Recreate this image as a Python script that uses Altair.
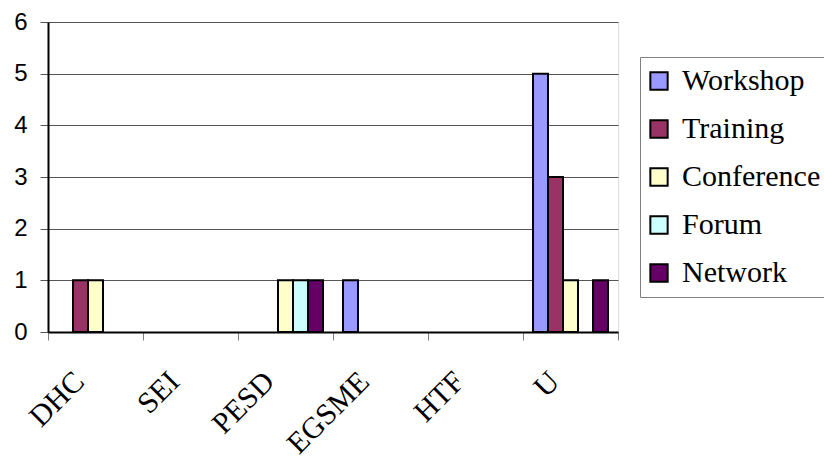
import altair as alt
import pandas as pd

categories = ["DHC", "SEI", "PESD", "EGSME", "HTF", "U"]
series = ["Workshop", "Training", "Conference", "Forum", "Network"]
workshop = [0, 0, 0, 1, 0, 5]
training = [1, 0, 0, 0, 0, 3]
conference = [1, 0, 1, 0, 0, 1]
forum = [0, 0, 1, 0, 0, 0]
network = [0, 0, 1, 0, 0, 1]
colors = ["#9999FF", "#993366", "#FFFFCC", "#CCFFFF", "#660066"]
y_ticks = [0, 1, 2, 3, 4, 5, 6]

values_by_series = [workshop, training, conference, forum, network]
rows = []
for s, vals in zip(series, values_by_series):
    for c, v in zip(categories, vals):
        rows.append({"category": c, "series": s, "value": v})
df = pd.DataFrame(rows)

chart = (
    alt.Chart(df)
    .transform_filter("datum.value > 0")
    .mark_bar(stroke="black", strokeWidth=2)
    .encode(
        x=alt.X(
            "category:N",
            sort=categories,
            scale=alt.Scale(domain=categories, paddingInner=0, paddingOuter=0),
            axis=alt.Axis(
                title=None,
                labelAngle=-45,
                labelAlign="right",
                labelBaseline="top",
                labelFont="Liberation Serif",
                labelFontSize=30,
                labelColor="black",
                labelPadding=26,
                labelOffset=-27,
                tickBand="extent",
                tickSize=8,
                tickColor="#808080",
                tickWidth=1,
                domainColor="black",
                domainWidth=2,
                grid=False,
            ),
        ),
        xOffset=alt.XOffset(
            "series:N",
            sort=series,
            scale=alt.Scale(domain=series, paddingInner=0, paddingOuter=0.6667),
        ),
        y=alt.Y(
            "value:Q",
            scale=alt.Scale(domain=[0, 6], nice=False),
            axis=alt.Axis(
                title=None,
                values=y_ticks,
                format="d",
                labelFont="Liberation Sans",
                labelFontSize=24,
                labelColor="black",
                labelPadding=13,
                tickSize=8,
                tickColor="#555555",
                domainColor="black",
                domainWidth=2,
                grid=True,
                gridColor="#555555",
                gridWidth=1,
            ),
        ),
        color=alt.Color(
            "series:N",
            sort=series,
            scale=alt.Scale(domain=series, range=colors),
            legend=alt.Legend(
                title=None,
                orient="none",
                legendX=592,
                legendY=35,
                strokeColor="#808080",
                fillColor="white",
                padding=9,
                symbolType="square",
                symbolSize=300,
                symbolStrokeColor="black",
                symbolStrokeWidth=2,
                symbolOffset=-5,
                labelFont="Liberation Serif",
                labelFontSize=30,
                labelColor="black",
                labelOffset=8,
                rowPadding=18,
                labelLimit=300,
            ),
        ),
    )
    .properties(
        width=570,
        height=310,
        autosize=alt.AutoSizeParams(type="none"),
        padding={"left": 48, "top": 22, "right": 206, "bottom": 128},
    )
    .configure_view(stroke="black", strokeWidth=2)
    .configure(background="white")
)

chart.save("out.html", embed_options={"renderer": "svg", "actions": False})
